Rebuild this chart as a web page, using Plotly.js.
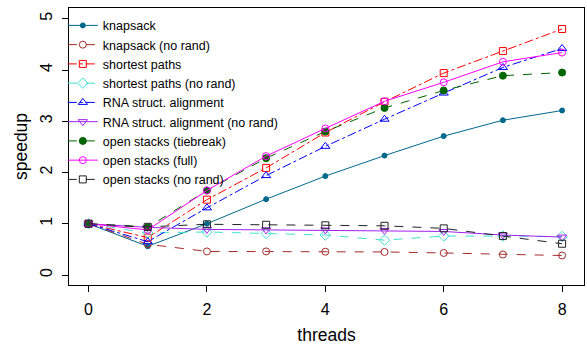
<!DOCTYPE html>
<html>
<head>
<meta charset="utf-8">
<script src="https://cdn.plot.ly/plotly-3.0.1.min.js"></script>
<style>html,body{margin:0;padding:0;background:#fff}#chart{width:587px;height:345px}</style>
</head>
<body>
<div id="chart"></div>
<script>
const threads = [0, 1, 2, 3, 4, 5, 6, 7, 8];

const knapsack            = [1.0, 0.56, 1.0, 1.48, 1.93, 2.33, 2.71, 3.02, 3.21];
const knapsackNoRand      = [1.0, 0.60, 0.46, 0.46, 0.455, 0.45, 0.43, 0.40, 0.38];
const shortestPaths       = [1.0, 0.73, 1.47, 2.09, 2.78, 3.38, 3.94, 4.37, 4.80];
const shortestPathsNoRand = [1.0, 0.82, 0.84, 0.81, 0.78, 0.68, 0.76, 0.76, 0.75];
const rnaAlign            = [1.0, 0.65, 1.31, 1.94, 2.51, 3.04, 3.55, 4.05, 4.42];
const rnaAlignNoRand      = [1.0, 0.93, 0.89, 0.88, 0.88, 0.87, 0.85, 0.78, 0.74];
const osTiebreak          = [1.0, 0.93, 1.65, 2.28, 2.80, 3.26, 3.60, 3.89, 3.95];
const osFull              = [1.0, 0.88, 1.65, 2.32, 2.86, 3.39, 3.76, 4.16, 4.34];
const osNoRand            = [1.0, 0.94, 0.99, 0.98, 0.97, 0.96, 0.91, 0.76, 0.61];

const seriesNames = [
  "knapsack", "knapsack (no rand)", "shortest paths", "shortest paths (no rand)",
  "RNA struct. alignment", "RNA struct. alignment (no rand)",
  "open stacks (tiebreak)", "open stacks (full)", "open stacks (no rand)"
];
const seriesValues = [knapsack, knapsackNoRand, shortestPaths, shortestPathsNoRand,
  rnaAlign, rnaAlignNoRand, osTiebreak, osFull, osNoRand];

const styles = [
  {color: "#00688B", dash: "solid",   symbol: "circle",             size: 5},
  {color: "#A52A2A", dash: "dash",    symbol: "circle-open",        size: 7},
  {color: "#FF0000", dash: "dashdot", symbol: "square-open",        size: 7},
  {color: "#40E0D0", dash: "dash",    symbol: "diamond-open",       size: 8},
  {color: "#0000FF", dash: "dashdot", symbol: "triangle-up-open",   size: 8},
  {color: "#A020F0", dash: "solid",   symbol: "triangle-down-open", size: 8},
  {color: "#006400", dash: "dash",    symbol: "circle",             size: 7},
  {color: "#FF00FF", dash: "solid",   symbol: "circle-open",        size: 7},
  {color: "#222222", dash: "dash",    symbol: "square-open",        size: 7}
];

const traces = seriesNames.map((name, i) => ({
  type: "scatter",
  mode: "lines+markers",
  name: name,
  x: threads,
  y: seriesValues[i],
  line: {color: styles[i].color, dash: styles[i].dash, width: 1},
  marker: {color: styles[i].color, symbol: styles[i].symbol, size: styles[i].size,
           line: {color: styles[i].color, width: 1}}
}));

const font = {family: "Liberation Sans, Arial, sans-serif", color: "#000"};

const layout = {
  width: 587, height: 345,
  margin: {l: 69, r: 3, t: 8, b: 60},
  paper_bgcolor: "#fff", plot_bgcolor: "#fff",
  font: Object.assign({size: 16}, font),
  showlegend: true,
  legend: {
    x: -0.012, y: 0.99, xanchor: "left", yanchor: "top",
    bgcolor: "rgba(0,0,0,0)", borderwidth: 0,
    font: Object.assign({size: 12.5}, font),
    tracegroupgap: 0, itemwidth: 30
  },
  xaxis: {
    range: [-0.33, 8.37],
    tickvals: [0, 2, 4, 6, 8],
    ticks: "outside", ticklen: 6, tickcolor: "#000", tickwidth: 1,
    ticklabelstandoff: 4,
    showgrid: false, zeroline: false,
    showline: true, linecolor: "#000", linewidth: 1, mirror: true,
    tickfont: Object.assign({size: 16}, font),
    title: {text: "threads", font: Object.assign({size: 17.5}, font), standoff: 11}
  },
  yaxis: {
    range: [-0.195, 5.21],
    tickvals: [0, 1, 2, 3, 4, 5],
    tickangle: -90,
    ticks: "outside", ticklen: 6, tickcolor: "#000", tickwidth: 1,
    ticklabelstandoff: 4,
    showgrid: false, zeroline: false,
    showline: true, linecolor: "#000", linewidth: 1, mirror: true,
    tickfont: Object.assign({size: 16}, font),
    title: {text: "speedup", font: Object.assign({size: 17.5}, font), standoff: 5}
  }
};

Plotly.newPlot("chart", traces, layout, {displayModeBar: false, staticPlot: true});
</script>
</body>
</html>
